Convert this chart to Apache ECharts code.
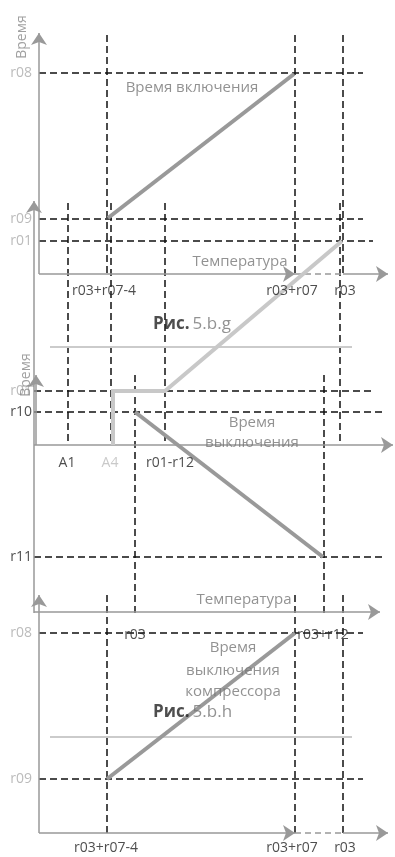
<!DOCTYPE html>
<html>
<head>
<meta charset="utf-8">
<script src="https://cdn.jsdelivr.net/npm/echarts@6/dist/echarts.min.js"></script>
<style>
  html, body { margin: 0; padding: 0; background: #fff; }
  #chart { width: 395px; height: 857px; }
</style>
</head>
<body>
<div id="chart"></div>
<script>
// schematic coordinate space: x = temperature position, y = time position (down is lower time)
// axes with arrow heads: [x1, y1, x2, y2]
const axes = [
  [39, 274, 39, 33], [39, 274, 295, 274], [343, 274, 388, 274],
  [34, 613, 34, 201], [36, 445, 36, 375], [34, 445, 393, 445], [34, 612, 380, 612],
  [39, 833, 39, 595], [39, 833, 295, 833], [343, 833, 388, 833]
];
// dashed stretch of the temperature axis
const axisGaps = [[295, 274, 343, 274], [295, 833, 343, 833]];
// horizontal guides: [y, xStart, xEnd]
const guideH = [
  [73, 39, 363], [219, 39, 363], [241, 39, 373],
  [391, 34, 373], [412, 34, 385], [557, 34, 383],
  [633, 39, 363], [779, 39, 363]
];
// vertical guides: [x, yStart, yEnd]
const guideV = [
  [107, 35, 274], [295, 35, 274], [343, 35, 274],
  [68, 203, 443], [111, 203, 445], [165, 203, 445], [340, 203, 443],
  [135, 375, 613], [324, 375, 613],
  [107, 595, 833], [295, 595, 833], [343, 595, 833]
];
// time curves
const curveOn = [[108, 218], [294, 74]];
const curveOff = [[135, 412], [323, 557]];
const curveComp = [[107, 779], [295, 633]];
const curveA4 = [[113, 445], [113, 391], [165, 391], [342, 241]];
const dividers = [[50, 347, 352, 347], [50, 737, 352, 737]];

// text labels: [text, x, y]
const yTicksLight = [['r08', 32, 73], ['r09', 32, 219], ['r01', 32, 241], ['r01', 32, 391], ['r08', 32, 633], ['r09', 32, 779]];
const yTicksDark = [['r10', 32, 412], ['r11', 32, 557]];
const xTicksDark = [
  ['r03+r07-4', 104, 291], ['r03+r07', 292, 291], ['r03', 345, 291],
  ['A1', 67, 463], ['r01-r12', 170, 463],
  ['r03', 135, 635], ['r03+r12', 323, 635],
  ['r03+r07-4', 106, 848], ['r03+r07', 292, 848], ['r03', 345, 848]
];
const xTicksLight = [['A4', 110, 463]];
const notes = [
  ['Время включения', 192, 88], ['Температура', 240, 262],
  ['Время', 252, 423], ['выключения', 252, 443], ['Температура', 244, 600],
  ['Время', 233, 648], ['выключения', 233, 671], ['компрессора', 233, 692]
];
const axisNames = [['Время', 22, 37], ['Время', 26, 375]];
const figures = [['5.b.g', 153, 324], ['5.b.h', 153, 712]];

const FONT = '"Open Sans", "Noto Sans", sans-serif';

function seg(a) { return { coords: [[a[0], a[1]], [a[2], a[3]]] }; }

function textSeries(list, label) {
  return {
    type: 'scatter', symbolSize: 0, z: 10, silent: true,
    data: list.map(t => ({ name: t[0], value: [t[1], t[2]] })),
    label: Object.assign({ show: true, position: 'inside', formatter: '{b}', fontFamily: FONT,
      verticalAlign: 'middle' }, label)
  };
}

const chart = echarts.init(document.getElementById('chart'));
chart.setOption({
  animation: false,
  backgroundColor: '#fff',
  grid: { left: 0, right: 0, top: 0, bottom: 0 },
  xAxis: { type: 'value', min: 0, max: 395, show: false },
  yAxis: { type: 'value', min: 0, max: 857, inverse: true, show: false },
  series: [
    {
      type: 'lines', coordinateSystem: 'cartesian2d', silent: true, z: 2,
      symbol: 'none',
      lineStyle: { color: '#111', width: 1.5, type: [7, 4], opacity: 1 },
      data: guideH.map(h => seg([h[1], h[0], h[2], h[0]]))
        .concat(guideV.map(v => seg([v[0], v[1], v[0], v[2]])))
    },
    {
      type: 'lines', coordinateSystem: 'cartesian2d', silent: true, z: 3,
      symbol: 'none',
      lineStyle: { color: '#999', width: 1.5, type: [6, 4], opacity: 1 },
      data: axisGaps.map(seg)
    },
    {
      type: 'lines', coordinateSystem: 'cartesian2d', silent: true, z: 3,
      symbol: ['none', 'arrow'], symbolSize: [8, 12],
      lineStyle: { color: '#999', width: 1.5, opacity: 1 },
      data: axes.map(seg)
    },
    {
      type: 'lines', coordinateSystem: 'cartesian2d', silent: true, z: 4,
      symbol: 'none',
      lineStyle: { color: '#cbcbcb', width: 2, opacity: 1 },
      data: dividers.map(seg)
    },
    {
      type: 'lines', coordinateSystem: 'cartesian2d', polyline: true, silent: true, z: 5,
      symbol: 'none',
      lineStyle: { color: '#c8c8c8', width: 4, opacity: 1 },
      data: [{ coords: curveA4 }]
    },
    {
      type: 'lines', coordinateSystem: 'cartesian2d', silent: true, z: 6,
      symbol: 'none',
      lineStyle: { color: '#999', width: 4, opacity: 1 },
      data: [{ coords: curveOn }, { coords: curveOff }, { coords: curveComp }]
    },
    textSeries(yTicksLight, { align: 'right', color: '#aaa', fontSize: 14 }),
    textSeries(yTicksDark, { align: 'right', color: '#222', fontSize: 14 }),
    textSeries(xTicksDark, { align: 'center', color: '#222', fontSize: 14 }),
    textSeries(xTicksLight, { align: 'center', color: '#bbb', fontSize: 14 }),
    textSeries(notes, { align: 'center', color: '#777', fontSize: 15 }),
    textSeries(axisNames, { align: 'center', color: '#888', fontSize: 14, rotate: 90 }),
    textSeries(figures, {
      align: 'left', formatter: '{b|Рис.} {n|{b}}',
      rich: {
        b: { fontFamily: FONT, fontWeight: 'bold', color: '#222', fontSize: 17 },
        n: { fontFamily: FONT, color: '#777', fontSize: 17 }
      }
    })
  ]
});
</script>
</body>
</html>
